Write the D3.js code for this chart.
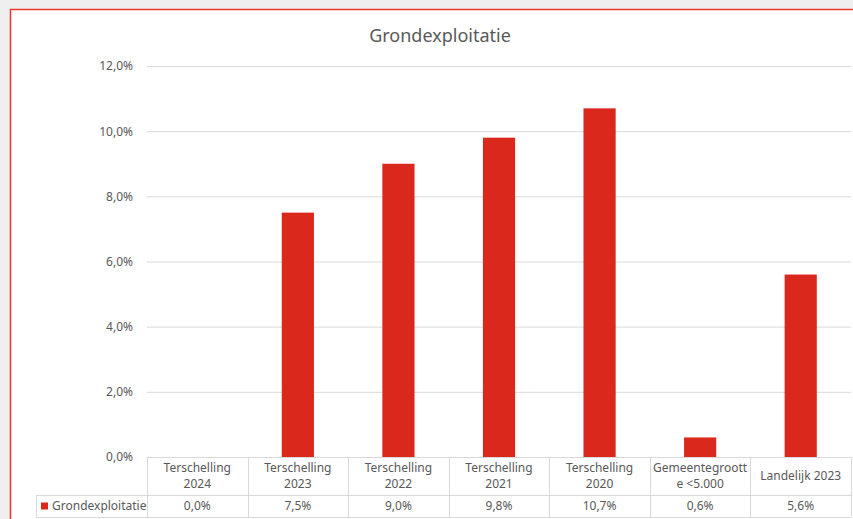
<!DOCTYPE html>
<html>
<head>
<meta charset="utf-8">
<script src="https://cdn.jsdelivr.net/npm/d3@7"></script>
<style>
  body { margin: 0; background: #efefef; }
  svg { display: block; font-family: "Noto Sans", sans-serif; }
</style>
</head>
<body>
<div id="chart"></div>
<script>
// Data
const categories = [
  ["Terschelling", "2024"],
  ["Terschelling", "2023"],
  ["Terschelling", "2022"],
  ["Terschelling", "2021"],
  ["Terschelling", "2020"],
  ["Gemeentegroott", "e <5.000"],
  ["Landelijk 2023"]
];
const values = [0.0, 7.5, 9.0, 9.8, 10.7, 0.6, 5.6];
const seriesName = "Grondexploitatie";
const yTicks = [0, 2, 4, 6, 8, 10, 12];

const svgWidth = 853;
const svgHeight = 519;

const plot = { left: 147, right: 851, top: 66, bottom: 457 };
const tableRow1 = 495; // bottom of header row
const tableRow2 = 517; // bottom of values row
const legendLeft = 36;

const barColor = "#da291c";
const gridColor = "#d9d9d9";
const textColor = "#595959";

const fmt = v => d3.format(".1f")(v).replace(".", ",") + "%";

const svg = d3.select("#chart")
  .append("svg")
  .attr("width", svgWidth)
  .attr("height", svgHeight);

// chart area with red border
svg.append("rect")
  .attr("x", 10.5)
  .attr("y", 9.5)
  .attr("width", svgWidth + 20)
  .attr("height", svgHeight + 20)
  .attr("fill", "#fff")
  .attr("stroke", "#e8382c")
  .attr("stroke-width", 1.5);

// title
svg.append("text")
  .attr("x", 440)
  .attr("y", 42)
  .attr("text-anchor", "middle")
  .attr("fill", textColor)
  .attr("font-size", 18)
  .text(seriesName);

// scales
const x = d3.scaleBand()
  .domain(d3.range(values.length))
  .range([plot.left, plot.right]);

const y = d3.scaleLinear()
  .domain([0, 12])
  .range([plot.bottom, plot.top]);

// gridlines + y labels
const yAxis = d3.axisLeft(y)
  .tickValues(yTicks)
  .tickSize(-(plot.right - plot.left))
  .tickPadding(14)
  .tickFormat(fmt);

const yAxisG = svg.append("g")
  .attr("transform", `translate(${plot.left}, 0)`)
  .call(yAxis);
yAxisG.select(".domain").remove();
yAxisG.selectAll(".tick line").attr("stroke", gridColor).attr("stroke-width", 1);
yAxisG.selectAll(".tick text")
  .attr("fill", textColor)
  .attr("font-size", 12)
  .attr("font-family", "Noto Sans, sans-serif");

// bars
const barW = x.bandwidth() * 0.32;
svg.append("g")
  .selectAll("rect")
  .data(values)
  .enter()
  .append("rect")
  .attr("x", (d, i) => x(i) + (x.bandwidth() - barW) / 2)
  .attr("y", d => y(d))
  .attr("width", barW)
  .attr("height", d => y(0) - y(d))
  .attr("fill", barColor);

// data table
const table = svg.append("g")
  .attr("stroke", gridColor)
  .attr("stroke-width", 1);

// horizontal lines
table.append("line")
  .attr("x1", plot.left).attr("x2", plot.right)
  .attr("y1", plot.bottom + 0.5).attr("y2", plot.bottom + 0.5);
[tableRow1, tableRow2].forEach(yy => {
  table.append("line")
    .attr("x1", legendLeft).attr("x2", plot.right)
    .attr("y1", yy + 0.5).attr("y2", yy + 0.5);
});
// vertical lines
d3.range(values.length + 1).forEach(i => {
  const xx = Math.round(i < values.length ? x(i) : plot.right) + 0.5;
  table.append("line")
    .attr("x1", xx).attr("x2", xx)
    .attr("y1", plot.bottom).attr("y2", tableRow2);
});
table.append("line")
  .attr("x1", legendLeft + 0.5).attr("x2", legendLeft + 0.5)
  .attr("y1", tableRow1).attr("y2", tableRow2);

// header labels
const headG = svg.append("g")
  .attr("fill", textColor)
  .attr("font-size", 12)
  .attr("text-anchor", "middle");

categories.forEach((lines, i) => {
  const cx = x(i) + x.bandwidth() / 2;
  const mid = (plot.bottom + tableRow1) / 2;
  const t = headG.append("text").attr("x", cx);
  lines.forEach((ln, j) => {
    const off = (j - (lines.length - 1) / 2) * 16;
    t.append("tspan")
      .attr("x", cx)
      .attr("y", mid + off + 4)
      .text(ln);
  });
});

// value row
const rowMid = (tableRow1 + tableRow2) / 2;
svg.append("g")
  .selectAll("text")
  .data(values)
  .enter()
  .append("text")
  .attr("x", (d, i) => x(i) + x.bandwidth() / 2)
  .attr("y", rowMid + 4)
  .attr("text-anchor", "middle")
  .attr("fill", textColor)
  .attr("font-size", 12)
  .text(d => fmt(d));

// legend key in table
svg.append("rect")
  .attr("x", legendLeft + 5)
  .attr("y", rowMid - 3.5)
  .attr("width", 7)
  .attr("height", 7)
  .attr("fill", barColor);
svg.append("text")
  .attr("x", legendLeft + 16)
  .attr("y", rowMid + 4)
  .attr("fill", textColor)
  .attr("font-size", 12)
  .text(seriesName);
</script>
</body>
</html>
